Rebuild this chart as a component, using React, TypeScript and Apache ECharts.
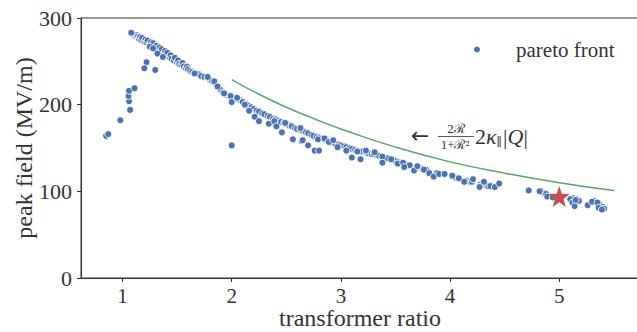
import React, { useEffect, useRef } from "react";
import * as echarts from "echarts";

// [transformer ratio, peak field (MV/m)]
const paretoFront: [number, number][] = [
  // dense upper band
  [1.10, 281], [1.12, 279], [1.13, 280], [1.14, 278], [1.15, 276], [1.16, 278], [1.17, 275], [1.18, 277], [1.20, 273],
  [1.21, 275], [1.22, 272], [1.23, 274], [1.25, 270], [1.26, 272], [1.27, 268], [1.28, 271], [1.30, 266], [1.31, 268],
  [1.33, 263], [1.34, 266], [1.35, 262], [1.36, 264], [1.38, 259], [1.39, 262], [1.40, 257], [1.41, 260], [1.43, 255],
  [1.44, 257], [1.45, 253], [1.47, 251], [1.48, 254], [1.50, 249], [1.51, 251], [1.52, 247], [1.54, 246], [1.55, 248],
  [1.56, 244], [1.58, 242], [1.59, 244], [1.60, 241], [1.62, 239], [1.64, 238], [1.66, 237], [1.68, 236], [1.70, 235],
  [1.72, 233], [1.75, 232], [1.78, 231], [1.80, 229], [1.82, 227], [1.84, 226], [1.86, 223],
  [1.88, 220], [1.90, 217], [1.92, 214], [1.94, 212], [1.96, 211], [1.98, 210], [2.00, 209],
  [2.02, 208], [2.05, 207], [2.08, 205], [2.10, 203], [2.13, 201], [2.15, 199], [2.18, 197],
  [2.20, 195], [2.23, 193], [2.25, 192], [2.28, 190], [2.30, 189], [2.33, 187], [2.35, 186],
  [2.38, 184], [2.40, 183], [2.43, 181], [2.45, 180], [2.48, 179], [2.50, 178], [2.53, 176],
  [2.55, 175], [2.58, 173], [2.60, 172], [2.63, 171], [2.65, 170], [2.68, 168], [2.70, 167],
  [2.73, 165], [2.75, 164], [2.78, 163], [2.80, 162], [2.83, 161], [2.85, 160], [2.88, 159],
  [2.90, 158], [2.93, 156], [2.95, 155], [2.98, 154], [3.00, 153], [3.03, 152], [3.05, 151],
  [3.08, 150], [3.10, 149], [3.13, 148], [3.15, 147], [3.18, 146], [3.20, 146], [3.23, 145],
  [3.25, 144], [3.28, 143], [3.30, 143], [3.33, 142], [3.35, 141], [3.38, 140], [3.40, 139],
  [3.43, 138], [3.48, 136], [3.50, 135], [3.53, 134], [3.55, 133], [3.60, 131], [3.63, 130],
  [3.73, 127], [3.75, 126], [3.78, 125], [3.88, 121], [3.93, 120], [4.05, 116], [4.08, 115],
  [4.15, 112], [4.18, 111], [4.20, 111], [4.28, 108], [4.30, 108], [4.33, 107], [4.35, 106],
  [4.38, 106], [4.40, 105],
  [4.84, 100], [4.86, 98], [5.13, 92], [5.16, 91], [5.18, 89], [5.32, 89], [5.34, 87],
  [5.37, 85], [5.40, 82], [5.41, 80],
  // low-ratio branch and outliers
  [0.85, 164], [0.87, 166], [0.98, 182], [1.07, 194], [1.06, 204], [1.055, 210], [1.06, 216],
  [1.11, 219], [1.08, 283], [1.25, 267], [1.28, 265], [1.32, 259], [1.37, 255], [1.22, 249],
  [1.20, 242], [1.30, 240], [2.00, 153],
  // separate points below the band
  [1.66, 236], [1.78, 232], [1.84, 227], [1.87, 221], [1.93, 213], [1.99, 210], [2.00, 203],
  [2.05, 208], [2.12, 200], [2.16, 193], [2.21, 186], [2.25, 181], [2.34, 178], [2.39, 181],
  [2.41, 175], [2.46, 168], [2.49, 179], [2.56, 160], [2.64, 158], [2.63, 173], [2.65, 159],
  [2.70, 153], [2.76, 147], [2.80, 147], [2.79, 160], [2.85, 161], [2.89, 157], [2.93, 159],
  [2.97, 151], [3.05, 147], [3.10, 139], [3.15, 146], [3.18, 137], [3.23, 147], [3.31, 145],
  [3.38, 140], [3.38, 133], [3.46, 137], [3.52, 132], [3.57, 133], [3.58, 128], [3.67, 124],
  [3.70, 129], [3.76, 125], [3.81, 121], [3.85, 117], [3.90, 120], [3.95, 120], [4.02, 118],
  [4.08, 115], [4.13, 111], [4.21, 114], [4.27, 105], [4.31, 111], [4.37, 106], [4.41, 105],
  [4.45, 109], [4.72, 101], [4.82, 100], [4.88, 97], [4.89, 94], [4.94, 93], [5.10, 91],
  [5.12, 87], [5.14, 83], [5.15, 90], [5.26, 84], [5.30, 88], [5.35, 87], [5.36, 81], [5.39, 79],
];

// green bound curve
const boundRatio = [2.0, 2.25, 2.5, 2.75, 3.0, 3.5, 4.0, 4.5, 5.0, 5.5];
const boundField = [229, 212, 197, 184, 172, 151, 134, 121, 110, 101];

// chosen working point (red star)
const chosenRatio = [5.0];
const chosenField = [94];

const xTickValues = [1, 2, 3, 4, 5];
const yTickValues = [0, 100, 200, 300];

const FONT = "'Liberation Serif', 'DejaVu Serif', serif";
const INK = "#333333";

export default function App() {
  const ref = useRef<HTMLDivElement>(null);
  useEffect(() => {
    if (!ref.current) return;
    const chart = echarts.init(ref.current, undefined, { renderer: "svg" });
    const option: any = {
      animation: false,
      backgroundColor: "#ffffff",
      textStyle: { fontFamily: FONT, color: INK },
      grid: {
        left: 81,
        right: -2,
        top: 18,
        bottom: 54,
        outerBoundsMode: "none",
        containLabel: false,
        show: true,
        borderColor: INK,
        borderWidth: 1,
        backgroundColor: "transparent",
      },
      legend: {
        data: ["pareto front"],
        left: 467,
        top: 34,
        icon: "circle",
        itemWidth: 8,
        itemHeight: 8,
        textStyle: { fontFamily: FONT, fontSize: 21, color: INK, padding: [0, 0, 0, 30] },
      },
      xAxis: {
        type: "value",
        min: 0.62,
        max: 5.73,
        name: "transformer ratio",
        nameLocation: "middle",
        nameGap: 29,
        nameMoveOverlap: false,
        nameTextStyle: { fontFamily: FONT, fontSize: 24, lineHeight: 22, color: INK },
        splitLine: { show: false },
        axisLine: { show: true, lineStyle: { color: INK, width: 1 } },
        axisTick: { show: true, length: 4, lineStyle: { color: INK }, customValues: xTickValues },
        axisLabel: { fontFamily: FONT, fontSize: 21, lineHeight: 18, color: INK, margin: 9, customValues: xTickValues },
      },
      yAxis: {
        type: "value",
        min: 0,
        max: 300,
        interval: 100,
        name: "peak field (MV/m)",
        nameLocation: "middle",
        nameGap: 45,
        nameMoveOverlap: false,
        nameTextStyle: { fontFamily: FONT, fontSize: 24, color: INK },
        splitLine: { show: false },
        axisLine: { show: true, lineStyle: { color: INK, width: 1 } },
        axisTick: { show: true, length: 4, lineStyle: { color: INK }, customValues: yTickValues },
        axisLabel: { fontFamily: FONT, fontSize: 22, color: INK, margin: 9, customValues: yTickValues },
      },
      series: [
        {
          name: "bound",
          type: "line",
          smooth: true,
          showSymbol: false,
          data: boundRatio.map((r, i) => [r, boundField[i]]),
          lineStyle: { color: "#55a868", width: 1.5 },
          itemStyle: { color: "#55a868" },
          z: 2,
        },
        {
          name: "pareto front",
          type: "scatter",
          symbol: "circle",
          symbolSize: 7,
          data: paretoFront,
          itemStyle: { color: "#4c72b0", borderColor: "#ffffff", borderWidth: 0.9, opacity: 1 },
          z: 3,
        },
        {
          name: "chosen",
          type: "scatter",
          symbol: "path://M12,0.6 L14.94,9.05 L23.9,9.24 L16.76,14.66 L19.35,23.23 L12,18.12 L4.65,23.23 L7.24,14.66 L0.1,9.24 L9.06,9.05 Z",
          symbolSize: 21,
          data: chosenRatio.map((r, i) => [r, chosenField[i]]),
          itemStyle: { color: "#c44e52", opacity: 1 },
          z: 4,
        },
      ],
      graphic: [
        {
          type: "group",
          children: [
            { type: "text", x: 420, y: 135, style: { text: "←", font: `22px 'DejaVu Sans', sans-serif`, fill: INK, align: "center", verticalAlign: "middle" } },
            { type: "text", x: 456, y: 128, style: { text: "2ℛ", font: `13px ${FONT}`, fill: INK, align: "center", verticalAlign: "middle" } },
            { type: "line", shape: { x1: 438, y1: 136.5, x2: 474, y2: 136.5 }, style: { stroke: INK, lineWidth: 0.8 } },
            { type: "text", x: 455, y: 144, style: { text: "1+ℛ²", font: `13px ${FONT}`, fill: INK, align: "center", verticalAlign: "middle" } },
            {
              type: "text",
              x: 475,
              y: 136,
              style: {
                text: "{n|2}{k|κ}{s|∥}{n||}{q|Q}{n||}",
                verticalAlign: "middle",
                fill: INK,
                rich: {
                  n: { fontFamily: FONT, fontSize: 22, color: INK },
                  k: { fontFamily: FONT, fontSize: 22, fontStyle: "italic", color: INK },
                  s: { fontFamily: FONT, fontSize: 12, color: INK, padding: [12, 1, 0, 0] },
                  q: { fontFamily: FONT, fontSize: 22, fontStyle: "italic", color: INK },
                },
              },
            },
          ],
        },
      ],
    };
    chart.setOption(option);
    return () => chart.dispose();
  }, []);
  return (
    <div
      ref={ref}
      style={{ position: "fixed", left: 0, top: 0, width: 637, height: 332, background: "#fff" }}
    />
  );
}
